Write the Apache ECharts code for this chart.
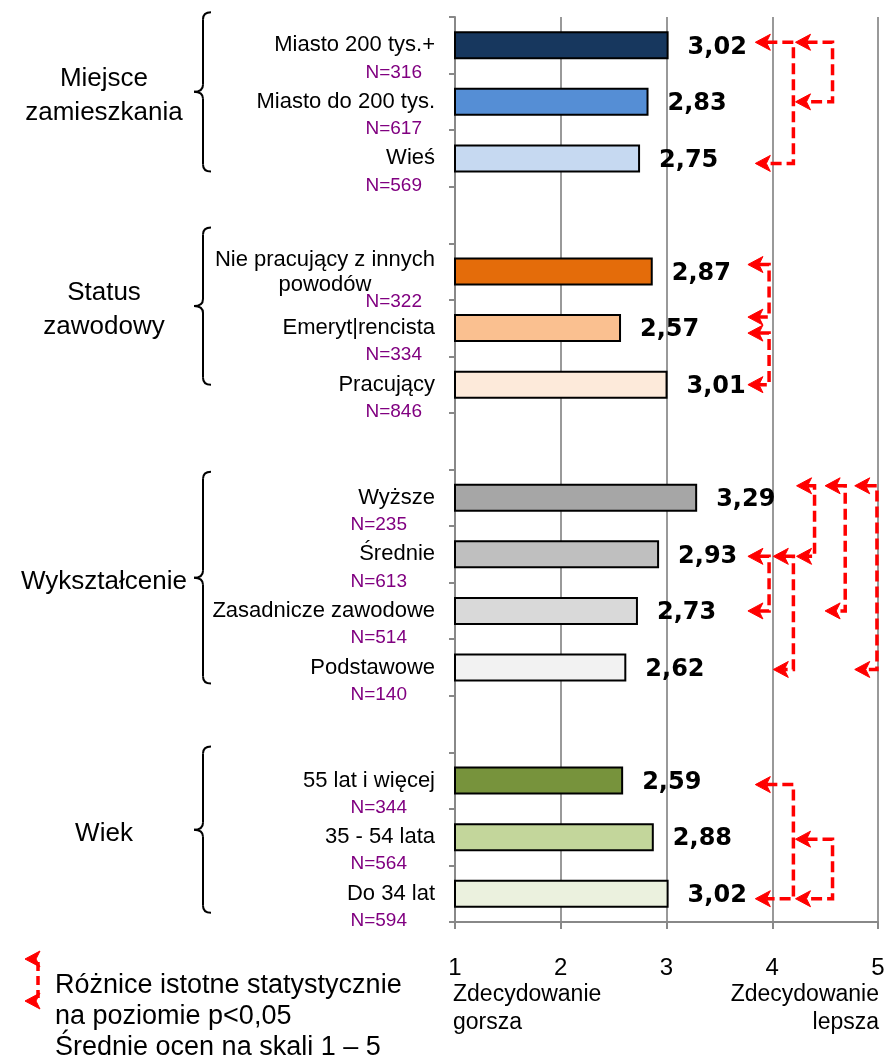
<!DOCTYPE html>
<html>
<head>
<meta charset="utf-8">
<script src="https://cdn.jsdelivr.net/npm/echarts@6.0.0/dist/echarts.min.js"></script>
<style>
  html, body { margin: 0; padding: 0; background: #ffffff; }
  #chart { width: 889px; height: 1061px; }
</style>
</head>
<body>
<div id="chart"></div>
<script>
// Rows of the chart, top to bottom; empty rows separate the groups.
const categories = [
  'Miasto 200 tys.+', 'Miasto do 200 tys.', 'Wieś', ' ',
  'Nie pracujący z innych\npowodów', 'Emeryt|rencista', 'Pracujący', '  ',
  'Wyższe', 'Średnie', 'Zasadnicze zawodowe', 'Podstawowe', '   ',
  '55 lat i więcej', '35 - 54 lata', 'Do 34 lat'
];
const sampleSizes = [316, 617, 569, null, 322, 334, 846, null, 235, 613, 514, 140, null, 344, 564, 594];
const meanScores = [3.02, 2.83, 2.75, null, 2.87, 2.57, 3.01, null, 3.29, 2.93, 2.73, 2.62, null, 2.59, 2.88, 3.02];
const barColors = [
  '#17375E', '#558ED5', '#C6D9F1', null,
  '#E46C0A', '#FAC090', '#FDEADA', null,
  '#A6A6A6', '#BFBFBF', '#D9D9D9', '#F2F2F2', null,
  '#77933C', '#C3D69B', '#EBF1DE'
];
const groupNames = ['Miejsce\nzamieszkania', 'Status\nzawodowy', 'Wykształcenie', 'Wiek'];
const groupRows = [[0, 2], [4, 6], [8, 11], [13, 15]];
// Pairs of rows whose means differ significantly (p<0,05).
const significantPairs = [[0, 2], [0, 1], [4, 5], [5, 6], [8, 9], [8, 10], [8, 11], [9, 10], [9, 11], [13, 15], [14, 15]];
const scaleMin = 1, scaleMax = 5, scaleStep = 1;
const scaleLowText = 'Zdecydowanie\ngorsza';
const scaleHighText = 'Zdecydowanie\nlepsza';
const legendLines = ['Różnice istotne statystycznie', 'na poziomie p<0,05', 'Średnie ocen na skali 1 – 5'];

const SANS = 'Liberation Sans, Arial, sans-serif';
const BOLD = 'DejaVu Sans, sans-serif';

// Drawing layout of each significance bracket: arrow tip and vertical run (in scale units),
// plus small vertical nudges (px) of both ends.
const bracketLayout = [
  { tip: 3.84, run: 4.20, dyA: -3, dyB: 5 },
  { tip: 4.22, run: 4.57, dyA: -3, dyB: 0 },
  { tip: 3.77, run: 3.97, dyA: -7, dyB: -11 },
  { tip: 3.77, run: 3.97, dyA: 5, dyB: 0 },
  { tip: 4.23, run: 4.40, dyA: -12, dyB: 2 },
  { tip: 4.50, run: 4.69, dyA: -12, dyB: 0 },
  { tip: 4.78, run: 4.99, dyA: -12, dyB: 2 },
  { tip: 3.77, run: 3.97, dyA: 2, dyB: 0 },
  { tip: 4.01, run: 4.20, dyA: 2, dyB: 2 },
  { tip: 3.84, run: 4.20, dyA: 4, dyB: 5 },
  { tip: 4.22, run: 4.57, dyA: 2, dyB: 5 }
];
// Brace extents relative to the first / last row centre of each group (px).
const braceLayout = [[-33, 13], [-44, 0], [-26, 16], [-34, 19]];

function fmt(v) { return v.toFixed(2).replace('.', ','); }

const chart = echarts.init(document.getElementById('chart'), null, { renderer: 'canvas' });

const option = {
  animation: false,
  backgroundColor: '#ffffff',
  grid: { left: 455, right: 11, top: 17, bottom: 139, containLabel: false },
  xAxis: {
    type: 'value',
    min: scaleMin, max: scaleMax, interval: scaleStep,
    axisLine: { show: true, lineStyle: { color: '#888888', width: 2 } },
    axisTick: { show: true, length: 7, lineStyle: { color: '#888888', width: 2 } },
    splitLine: { show: true, lineStyle: { color: '#999999', width: 2 } },
    axisLabel: {
      margin: 33,
      showMinLabel: true,
      showMaxLabel: true,
      fontFamily: SANS,
      fontSize: 24,
      lineHeight: 26,
      color: '#000'
    }
  },
  yAxis: {
    type: 'category',
    inverse: true,
    data: categories,
    axisLine: { show: true, lineStyle: { color: '#888888', width: 2 } },
    axisTick: { show: true, length: 6, lineStyle: { color: '#888888', width: 2 } },
    splitLine: { show: false },
    axisLabel: {
      interval: 0,
      margin: 20,
      formatter: function (value, idx) {
        const n = sampleSizes[idx];
        if (n == null) return '';
        const name = categories[idx];
        if (name.indexOf('\n') >= 0) {
          const parts = name.split('\n');
          return '{spS| }\n{nmA|' + parts[0] + '}\n{nmC|' + parts[1] + '}\n{nS|N=' + n + '}';
        }
        const nStyle = idx < 7 ? 'n1' : 'n2';
        return '{sp| }\n{nm|' + name + '}\n{' + nStyle + '|N=' + n + '}';
      },
      rich: {
        sp: { fontSize: 8, lineHeight: 27 },
        spS: { fontSize: 8, lineHeight: 11 },
        nm: { fontFamily: SANS, fontSize: 22, lineHeight: 27, color: '#000' },
        nmA: { fontFamily: SANS, fontSize: 22, lineHeight: 25, color: '#000' },
        nmC: { fontFamily: SANS, fontSize: 22, lineHeight: 25, color: '#000', align: 'center' },
        n1: { fontFamily: SANS, fontSize: 19, lineHeight: 27, color: '#800080', padding: [0, 13, 0, 0] },
        n2: { fontFamily: SANS, fontSize: 19, lineHeight: 27, color: '#800080', padding: [0, 28, 0, 0] },
        nS: { fontFamily: SANS, fontSize: 19, lineHeight: 9, color: '#800080', padding: [0, 13, 0, 0] }
      }
    }
  },
  series: [{
    type: 'bar',
    barWidth: 28,
    data: meanScores.map(function (v, i) {
      return v == null ? null : { value: v, itemStyle: { color: barColors[i] } };
    }),
    itemStyle: { borderColor: '#000000', borderWidth: 2 },
    label: {
      show: true,
      position: 'right',
      distance: 19,
      offset: [0, 2],
      fontFamily: BOLD,
      fontWeight: 'bold',
      fontSize: 24,
      color: '#000',
      formatter: function (p) { return p.value == null ? '' : fmt(p.value); }
    }
  }]
};

chart.setOption(option);

// Annotation layer: scale-end captions, group braces and names, significance brackets, key.
const px = function (v) { return chart.convertToPixel({ xAxisIndex: 0 }, v); };
const py = function (r) { return chart.convertToPixel({ yAxisIndex: 0 }, r); };

const graphics = [];
const RED = '#FF0000';

function arrowHead(x, y) {
  return {
    type: 'polygon',
    shape: { points: [[x, y], [x + 15, y - 8], [x + 11, y], [x + 15, y + 8]] },
    style: { fill: RED, stroke: RED, lineWidth: 1 },
    silent: true
  };
}

// Captions under both ends of the scale.
graphics.push(
  {
    type: 'text', x: px(scaleMin) - 2, y: 981, silent: true,
    style: { text: scaleLowText, fontFamily: SANS, fontSize: 23, lineHeight: 28, fill: '#000', align: 'left', verticalAlign: 'top' }
  },
  {
    type: 'text', x: px(scaleMax) + 1, y: 981, silent: true,
    style: { text: scaleHighText, fontFamily: SANS, fontSize: 23, lineHeight: 28, fill: '#000', align: 'right', verticalAlign: 'top' }
  }
);

// Braces and group names.
const xv = 203, xh = 211, xt = 194;
groupRows.forEach(function (g, i) {
  const top = py(g[0]) + braceLayout[i][0];
  const bot = py(g[1]) + braceLayout[i][1];
  const mid = (top + bot) / 2;
  const st = { stroke: '#000', lineWidth: 2, fill: null };
  graphics.push(
    { type: 'bezierCurve', shape: { x1: xh, y1: top, x2: xv, y2: top + 7, cpx1: xv, cpy1: top }, style: st, silent: true },
    { type: 'line', shape: { x1: xv, y1: top + 7, x2: xv, y2: mid - 7 }, style: st, silent: true },
    { type: 'bezierCurve', shape: { x1: xv, y1: mid - 7, x2: xt, y2: mid, cpx1: xv, cpy1: mid }, style: st, silent: true },
    { type: 'bezierCurve', shape: { x1: xt, y1: mid, x2: xv, y2: mid + 7, cpx1: xv, cpy1: mid }, style: st, silent: true },
    { type: 'line', shape: { x1: xv, y1: mid + 7, x2: xv, y2: bot - 7 }, style: st, silent: true },
    { type: 'bezierCurve', shape: { x1: xv, y1: bot - 7, x2: xh, y2: bot, cpx1: xv, cpy1: bot }, style: st, silent: true },
    {
      type: 'text', x: 104, y: mid + 4, silent: true,
      style: {
        text: groupNames[i], fontFamily: SANS, fontSize: 26, lineHeight: 34,
        fill: '#000', align: 'center', verticalAlign: 'middle'
      }
    }
  );
});

// Significance brackets.
significantPairs.forEach(function (pair, i) {
  const L = bracketLayout[i];
  const xTip = px(L.tip), xRun = px(L.run);
  const yA = py(pair[0]) + L.dyA, yB = py(pair[1]) + L.dyB;
  graphics.push({
    type: 'polyline',
    shape: { points: [[xTip + 11, yA], [xRun, yA], [xRun, yB], [xTip + 11, yB]] },
    style: { stroke: RED, lineWidth: 3.5, lineDash: [11, 5], fill: null },
    silent: true
  });
  graphics.push(arrowHead(xTip, yA), arrowHead(xTip, yB));
});

// Key.
graphics.push({
  type: 'line',
  shape: { x1: 38, y1: 962, x2: 38, y2: 998 },
  style: { stroke: RED, lineWidth: 3.5, lineDash: [9, 5] },
  silent: true
});
graphics.push(arrowHead(25, 959), arrowHead(25, 1001));
legendLines.forEach(function (t, i) {
  graphics.push({
    type: 'text', x: 55, y: 986 + i * 31, silent: true,
    style: { text: t, fontFamily: SANS, fontSize: 27, fill: '#000', align: 'left', verticalAlign: 'middle' }
  });
});

chart.setOption({ graphic: graphics });
</script>
</body>
</html>
